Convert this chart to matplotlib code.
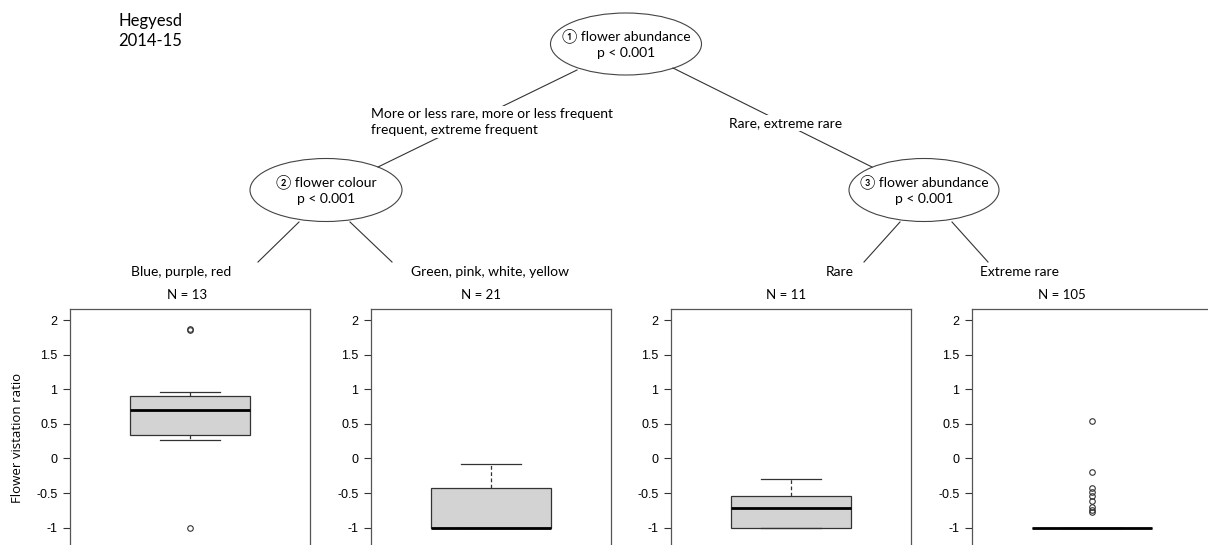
import matplotlib
matplotlib.use("Agg")
import matplotlib.pyplot as plt
from matplotlib.patches import Ellipse

W, H = 1208, 545

# tree content
title = "Hegyesd\n2014-15"
node_labels = ["\u2460 flower abundance\np < 0.001",
               "\u2461 flower colour\np < 0.001",
               "\u2462 flower abundance\np < 0.001"]
edge_labels = ["More or less rare, more or less frequent\nfrequent, extreme frequent",
               "Rare, extreme rare",
               "Blue, purple, red",
               "Green, pink, white, yellow",
               "Rare",
               "Extreme rare"]
n_obs = [13, 21, 11, 105]

# boxplot statistics per terminal node
whislo = [0.27, -1.0, -1.0, -1.0]
q1 = [0.34, -1.0, -1.0, -1.0]
med = [0.70, -1.0, -0.72, -1.0]
q3 = [0.91, -0.42, -0.54, -1.0]
whishi = [0.955, -0.075, -0.30, -1.0]
fliers = [[1.85, 1.87, -1.0],
          [],
          [],
          [0.54, -0.20, -0.42, -0.48, -0.54, -0.62, -0.70, -0.75, -0.78]]
yticks = [-1, -0.5, 0, 0.5, 1, 1.5, 2]
ytick_labels = ["-1", "-0.5", "0", "0.5", "1", "1.5", "2"]

tfont = ["Lato", "DejaVu Sans"]

fig = plt.figure(figsize=(W / 100, H / 100), dpi=100)

# overlay axes in pixel coords for the tree
tr = fig.add_axes([0, 0, 1, 1])
tr.set_xlim(0, W)
tr.set_ylim(H, 0)
tr.axis("off")

tr.text(150, 31, title, ha="center", va="center", multialignment="center",
        fontsize=12, family=tfont, linespacing=1.3)

# nodes: (cx, cy, w, h)
nodes = [(626, 44, 151, 62), (326, 190, 152, 63), (924, 190, 150, 63)]
for (cx, cy, w, h), lab in zip(nodes, node_labels):
    tr.add_patch(Ellipse((cx, cy), w, h, fc="white", ec="#444444", lw=0.8))
    tr.text(cx, cy, lab, ha="center", va="center", fontsize=10, family=tfont,
            linespacing=1.25)

# edges
lc = "#333333"
tr.plot([577, 378], [70, 167], color=lc, lw=0.8)
tr.plot([673, 872], [68, 167], color=lc, lw=0.8)
tr.plot([299, 258], [222, 262], color=lc, lw=0.8)
tr.plot([350, 392], [222, 262], color=lc, lw=0.8)
tr.plot([900, 864], [222, 262], color=lc, lw=0.8)
tr.plot([952, 988], [222, 262], color=lc, lw=0.8)

box = dict(fc="white", ec="none", pad=1.5)
tr.text(492, 122, edge_labels[0], ha="center", va="center", multialignment="left",
        fontsize=10, family=tfont, bbox=box, linespacing=1.3)
tr.text(786, 123, edge_labels[1], ha="center", va="center", fontsize=10,
        family=tfont, bbox=box)
leaf_x = [181, 490, 840, 1019]
for x, lab in zip(leaf_x, edge_labels[2:]):
    tr.text(x, 272, lab, ha="center", va="center", fontsize=10, family=tfont)
n_x = [187, 481, 786, 1062]
for x, n in zip(n_x, n_obs):
    tr.text(x, 295, "N = %d" % n, ha="center", va="center", fontsize=9.5,
            family=tfont)

# terminal boxplots
lefts = [70, 371, 671, 972]
top_px = 309
ylo, yhi = -1.35, 2.16
ppu = 69.2
h_px = (yhi - ylo) * ppu
for i, lx in enumerate(lefts):
    ax = fig.add_axes([lx / W, (H - top_px - h_px) / H, 240 / W, h_px / H])
    stats = [dict(whislo=whislo[i], q1=q1[i], med=med[i], q3=q3[i],
                  whishi=whishi[i], fliers=fliers[i])]
    ax.bxp(stats, positions=[1], widths=0.5, patch_artist=True,
           boxprops=dict(facecolor="#d3d3d3", edgecolor="#333333", lw=0.9),
           medianprops=dict(color="black", lw=2),
           whiskerprops=dict(color="#333333", lw=0.9, linestyle=(0, (3, 2))),
           capprops=dict(color="#333333", lw=0.9),
           capwidths=0.25,
           flierprops=dict(marker="o", markersize=4, markerfacecolor="none",
                           markeredgecolor="#333333", markeredgewidth=0.8))
    ax.set_xlim(0.5, 1.5)
    ax.set_ylim(ylo, yhi)
    ax.set_xticks([])
    ax.set_yticks(yticks)
    ax.set_yticklabels(ytick_labels, family="Liberation Sans", fontsize=9)
    ax.tick_params(axis="y", length=5, width=0.8, pad=4, colors="#333333",
                   labelcolor="black")
    for s in ax.spines.values():
        s.set_color("#555555")
        s.set_linewidth(0.9)
    if i == 0:
        fig.text(18 / W, 1 - 438 / H, "Flower vistation ratio", rotation=90,
                 ha="center", va="center", fontsize=9.5, family="Open Sans")

fig.savefig("out.png", dpi=100)
